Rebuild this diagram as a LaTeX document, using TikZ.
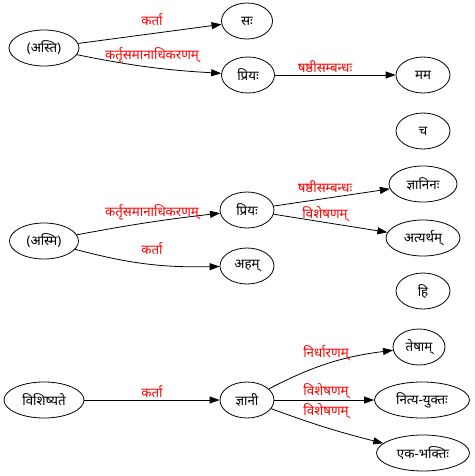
\documentclass[tikz,border=0pt]{standalone}
\usepackage{fontspec}
\newfontfamily\deva[Script=Devanagari]{Noto Sans}
\usetikzlibrary{shapes.geometric,arrows.meta}
\tikzset{
  nd/.style={draw, ellipse, line width=0.8pt, minimum width=54pt, minimum height=36pt, inner sep=0pt, font=\deva\fontsize{13.3}{15}\selectfont},
  edge/.style={draw, line width=0.8pt, -{Triangle[length=10pt,width=7pt]}},
  lbl/.style={text=red, inner sep=0pt, font=\deva\fontsize{13.3}{15}\selectfont}
}
\begin{document}
\begin{tikzpicture}[x=1pt,y=-1pt]
\useasboundingbox (0,0) rectangle (474,476);
% nodes
\node[nd, minimum width=70pt] (asti) at (44,48) {(अस्ति)};
\node[nd, minimum width=51pt] (sah) at (247,21) {सः};
\node[nd, minimum width=53pt] (priya1) at (248,75) {प्रियः};
\node[nd] (mama) at (423,75) {मम};
\node[nd] (ca) at (423,131) {च};
\node[nd, minimum width=69pt] (asmi) at (44,241) {(अस्मि)};
\node[nd] (priya2) at (247,210) {प्रियः};
\node[nd] (aham) at (247,266) {अहम्};
\node[nd, minimum width=68pt] (jnaninah) at (423,184) {ज्ञानिनः};
\node[nd, minimum width=74pt] (atyartham) at (423,238) {अत्यर्थम्};
\node[nd] (hi) at (423,291) {हि};
\node[nd, minimum width=80pt] (vis) at (44,400) {विशिष्यते};
\node[nd] (jnani) at (247,400) {ज्ञानी};
\node[nd, minimum width=52pt] (tesham) at (419,347) {तेषाम्};
\node[nd, minimum width=95pt] (nitya) at (422,400) {नित्य-युक्तः};
\node[nd, minimum width=93pt] (eka) at (423,453) {एक-भक्तिः};
% edges
\draw[edge] (asti) -- (sah);
\draw[edge] (asti) to[bend right=4] (priya1);
\draw[edge] (priya1) -- (mama);
\draw[edge] (asmi) to[bend left=2] (priya2);
\draw[edge] (asmi) to[bend right=8] (aham);
\draw[edge] (priya2) -- (jnaninah);
\draw[edge] (priya2) -- (atyartham);
\draw[edge] (vis) -- (jnani);
\draw[edge] (jnani) to[bend left=10] (tesham);
\draw[edge] (jnani) -- (nitya);
\draw[edge] (jnani) to[bend right=3] (eka);
% labels
\node[lbl] (l1) at (152,20) {कर्ता};
\node[lbl] (l2) at (152,55) {कर्तृसमानाधिकरणम्};
\node[lbl] (l3) at (325,67) {षष्ठीसम्बन्धः};
\node[lbl] (l4) at (152,212) {कर्तृसमानाधिकरणम्};
\node[lbl] (l5) at (152,249) {कर्ता};
\node[lbl] (l6) at (325,187) {षष्ठीसम्बन्धः};
\node[lbl] (l7) at (325,214) {विशेषणम्};
\node[lbl] (l8) at (152,392) {कर्ता};
\node[lbl] (l9) at (326,353) {निर्धारणम्};
\node[lbl] (l10) at (326,391) {विशेषणम्};
\node[lbl] (l11) at (326,411) {विशेषणम्};
\end{tikzpicture}
\end{document}
